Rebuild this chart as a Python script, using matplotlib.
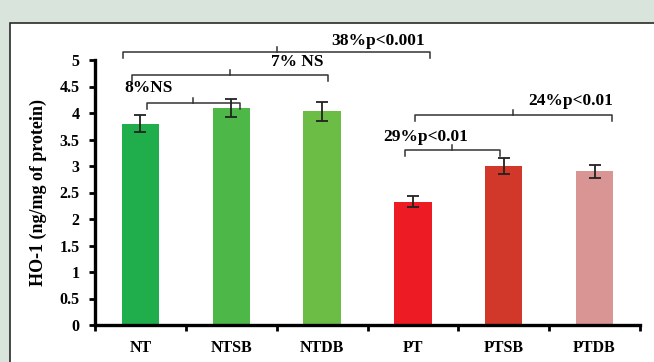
import matplotlib
matplotlib.use("Agg")
import matplotlib.pyplot as plt
from matplotlib.patches import Rectangle

categories = ["NT", "NTSB", "NTDB", "PT", "PTSB", "PTDB"]
values = [3.80, 4.10, 4.03, 2.33, 3.00, 2.90]
errors = [0.16, 0.17, 0.18, 0.10, 0.15, 0.12]
colors = ["#1fae4b", "#4db848", "#6cbd45", "#ed1c24", "#d2382a", "#d99593"]
yticks = [0, 0.5, 1, 1.5, 2, 2.5, 3, 3.5, 4, 4.5, 5]
ytick_labels = ["0", "0.5", "1", "1.5", "2", "2.5", "3", "3.5", "4", "4.5", "5"]
ylabel = "HO-1 (ng/mg of protein)"
comparisons = ["38%p<0.001", "7% NS", "8%NS", "24%p<0.01", "29%p<0.01"]

plt.rcParams['font.family'] = ['Liberation Serif', 'DejaVu Serif']
plt.rcParams['font.weight'] = 'bold'

fig = plt.figure(figsize=(6.54, 3.62), dpi=100)
fig.patch.set_facecolor("#d8e4dc")

bg = fig.add_axes([0, 0, 1, 1], zorder=0)
bg.set_xlim(0, 654)
bg.set_ylim(362, 0)
bg.axis('off')
bg.add_patch(Rectangle((10, 23), 700, 400, facecolor="white", edgecolor="#2a2a2a",
                       linewidth=1.2))

ax = fig.add_axes([95/654, 1 - 325/362, 545/654, (325 - 60)/362], zorder=1)
ax.set_facecolor("none")
x = list(range(len(categories)))
ax.bar(x, values, width=0.41, color=colors, yerr=errors,
       error_kw=dict(ecolor="#222222", elinewidth=1.3, capsize=4.5, capthick=1.3), zorder=2)
ax.set_xlim(-0.5, 5.5)
ax.set_ylim(0, 5)
ax.set_yticks(yticks)
ax.set_yticklabels(ytick_labels, fontsize=11.5, fontweight='bold')
ax.set_xticks(x)
ax.set_xticklabels(categories, fontsize=11.5, fontweight='bold')
ax.tick_params(axis='x', length=0, pad=11)
ax.set_xticks([i + 0.5 for i in range(-1, 6)], minor=True)
ax.tick_params(axis='x', which='minor', length=4, width=2, direction='out')
ax.tick_params(axis='y', length=4, width=2, direction='out', pad=7)
for s in ["top", "right"]:
    ax.spines[s].set_visible(False)
for s in ["left", "bottom"]:
    ax.spines[s].set_linewidth(2.4)
ax.set_ylabel(ylabel, fontsize=13, fontweight='bold', labelpad=9)


def px2x(px):
    return (px - 95) / 90.83 - 0.5


def py2y(py):
    return (325 - py) / 53.0


def bracket(x0, x1, xm, y, label, tx, ty, ha='center'):
    X0, X1, XM, Y = px2x(x0), px2x(x1), px2x(xm), py2y(y)
    h = 6 / 53.0
    ax.plot([X0, X0, X1, X1], [Y - h, Y, Y, Y - h], color="#333333", lw=1.1, clip_on=False)
    ax.plot([XM, XM], [Y, Y + h * 0.8], color="#333333", lw=1.1, clip_on=False)
    ax.text(px2x(tx), py2y(ty), label, ha=ha, va='center', fontsize=12.5,
            fontweight='bold', clip_on=False)


bracket(123, 430, 277, 52, comparisons[0], 378, 41)
bracket(132, 328, 230, 75, comparisons[1], 297, 62)
bracket(147, 240, 193, 103, comparisons[2], 149, 88)
bracket(415, 612, 513, 115, comparisons[3], 571, 101)
bracket(405, 500, 452, 150, comparisons[4], 426, 137)

fig.savefig("out.png", dpi=100, facecolor=fig.get_facecolor())
